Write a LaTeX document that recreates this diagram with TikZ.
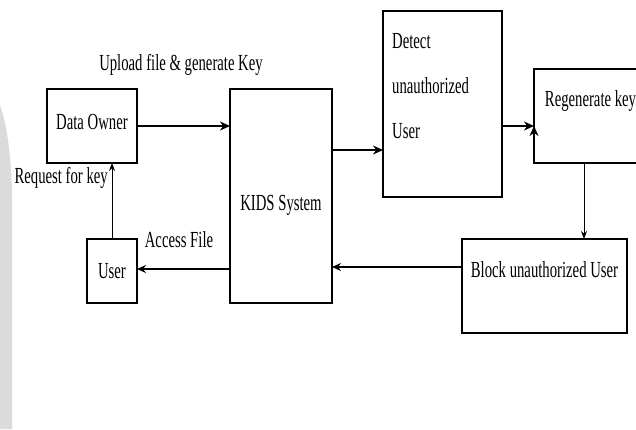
\documentclass[tikz,border=0pt]{standalone}
\usepackage{fontspec}
\setmainfont{Liberation Serif}[FakeStretch=0.64]
\usetikzlibrary{arrows.meta}
\newcommand{\txt}{\fontsize{23}{27}\selectfont}

\begin{document}
\begin{tikzpicture}[x=1pt, y=-1pt,
    box/.style={draw, line width=1.2pt, outer sep=0pt, inner sep=0pt, font=\txt},
    lbl/.style={font=\txt, inner sep=0pt},
    flow/.style={-{Stealth[length=10pt,width=9pt]}, line width=2.4pt},
    back/.style={-{Stealth[length=9pt,width=8pt]}, line width=1.7pt},
    slim/.style={-{Stealth[length=8pt,width=6pt]}, line width=1pt}]
        \clip (0,0) rectangle (636,429);
        % faint watermark on the left
        \fill[black!14] (0,105) .. controls (7,125) and (12,160) .. (12,200)
            -- (12,429) -- (0,429) -- cycle;

        % blocks
        \node[box, minimum width=90, minimum height=74, text height=15pt, text depth=8.4pt]
            (owner) at (92,126) {Data Owner};
        \node[box, minimum width=102, minimum height=214, text height=29pt, text depth=0pt]
            (kids) at (281,196) {KIDS System};
        \node[box, minimum width=50, minimum height=64, text height=15pt, text depth=0pt]
            (user) at (112,271) {User};
        \node[box, minimum width=119, minimum height=186] (detect) at (442.5,104) {};
        \node[lbl, anchor=north west, align=left, font=\fontsize{23}{45}\selectfont]
            (detecttxt) at ([xshift=9pt, yshift=-22pt]detect.north west)
            {Detect\\unauthorized\\User};
        \node[box, minimum width=113, minimum height=94, text height=15pt, text depth=34.4pt]
            (regen) at (590.5,116) {Regenerate key};
        \node[box, minimum width=165, minimum height=94, text height=15pt, text depth=32.4pt]
            (block) at (544.5,286) {Block unauthorized User};

        % labels on the links
        \node[lbl] (upload) at (181,65) {Upload file \& generate Key};
        \node[lbl] (access) at (179,240) {Access File};
        \node[lbl, anchor=east] (request) at (108,178) {Request for key};

        % links
        \draw[flow] (owner.east) -- (owner.east -| kids.west);
        \draw[flow] ([yshift=46pt]kids.east) coordinate (k1) -- (k1 -| detect.west);
        \draw[flow] ([yshift=-10pt]regen.west) coordinate (r1);
        \draw[flow] (r1 -| detect.east) -- (r1);
        \draw[slim] ([xshift=-6.5pt]regen.south) coordinate (r2) -- (r2 |- block.north);
        \draw[back] ([yshift=19pt]block.west) coordinate (b1) -- (b1 -| kids.east);
        \draw[back] ([yshift=2pt]user.east -| kids.west) -- ([yshift=2pt]user.east);
        \draw[slim] (user.north) -- (user.north |- owner.south);
\end{tikzpicture}
\end{document}
